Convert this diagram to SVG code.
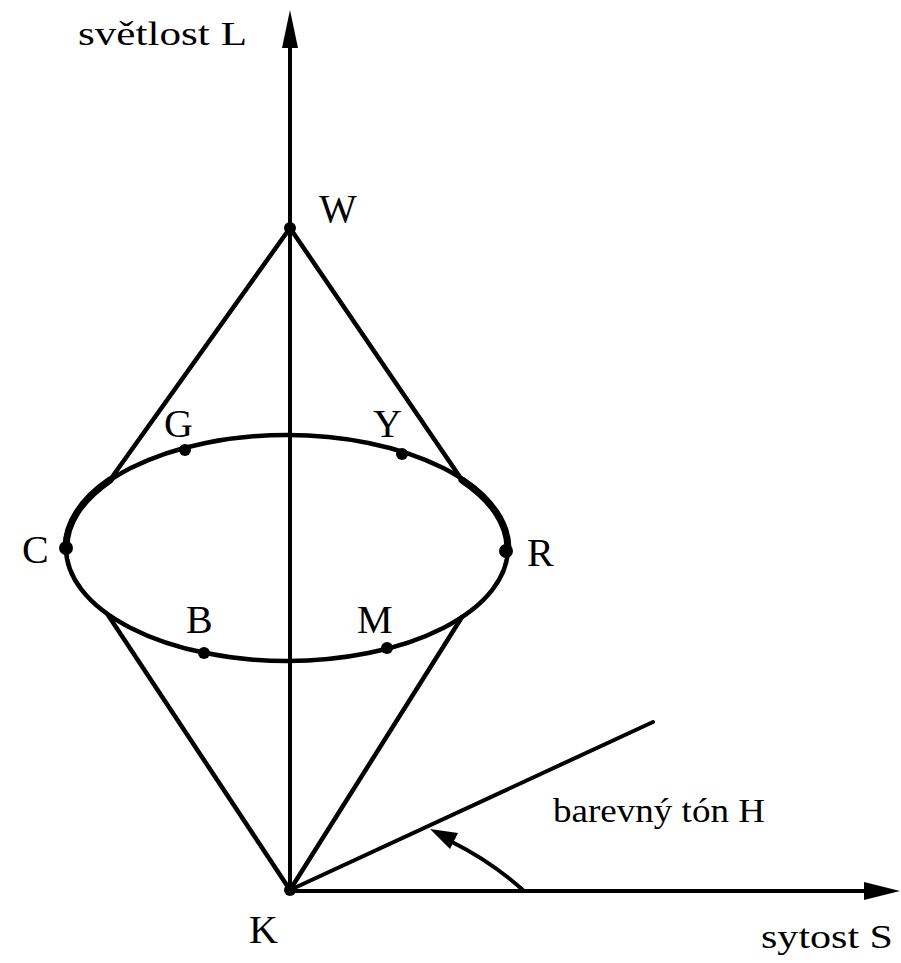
<svg xmlns="http://www.w3.org/2000/svg" width="901" height="963" viewBox="0 0 901 963">
<style>
.ln{stroke:#000;stroke-width:4;fill:none;stroke-linecap:round}
.th{stroke:#000;stroke-width:4.5;fill:none;stroke-linecap:round}
.tk{stroke:#000;stroke-width:7;fill:none;stroke-linecap:round}
.lb{font-family:"Liberation Serif","Times New Roman",serif;font-size:40px;fill:#000}
.tx{font-family:"Liberation Serif","Times New Roman",serif;font-size:34px;fill:#000}
.dot{fill:#000}
</style>
<rect width="901" height="963" fill="#fff"/>
<g id="connectors">
<line class="ln" x1="290" y1="890" x2="290" y2="40"/>
<polygon points="290,10 282,48 298,48" fill="#000"/>
<line class="ln" x1="290" y1="891" x2="870" y2="891"/>
<polygon points="900,891 864,882 864,900" fill="#000"/>
<ellipse class="th" cx="287" cy="548" rx="221" ry="113"/>
<line class="th" x1="290" y1="228" x2="110" y2="480"/>
<path class="tk" d="M110,480 A221,113 0 0,0 66,548"/>
<line class="th" x1="290" y1="228" x2="462" y2="480"/>
<path class="tk" d="M462,480 A221,113 0 0,1 508,548"/>
<line class="th" x1="290" y1="890" x2="108" y2="615"/>
<line class="th" x1="290" y1="890" x2="462" y2="617"/>
<line class="ln" x1="290" y1="890" x2="653" y2="722"/>
<path class="ln" d="M524,891 Q492,862 452,842"/>
<polygon points="430,829 458,833 450,849" fill="#000"/>
</g>
<g id="W"><circle class="dot" cx="290" cy="228" r="6"/><text class="lb" x="319" y="222">W</text></g>
<g id="C"><circle class="dot" cx="66" cy="548" r="7"/><text class="lb" x="22" y="563">C</text></g>
<g id="R"><circle class="dot" cx="506" cy="551" r="7"/><text class="lb" x="527" y="566">R</text></g>
<g id="G"><circle class="dot" cx="185" cy="450" r="6"/><text class="lb" x="164" y="437">G</text></g>
<g id="Y"><circle class="dot" cx="402" cy="454" r="6"/><text class="lb" x="373" y="437">Y</text></g>
<g id="B"><circle class="dot" cx="204" cy="653" r="6"/><text class="lb" x="186" y="633">B</text></g>
<g id="M"><circle class="dot" cx="387" cy="648" r="6"/><text class="lb" x="357" y="633">M</text></g>
<g id="K"><circle class="dot" cx="290" cy="890" r="6"/><text class="lb" x="249" y="943">K</text></g>
<g id="labels">
<text class="tx" x="78" y="45" textLength="169" lengthAdjust="spacingAndGlyphs">světlost L</text>
<text class="tx" x="553" y="822" textLength="212" lengthAdjust="spacingAndGlyphs">barevný tón H</text>
<text class="tx" x="761" y="948" textLength="132" lengthAdjust="spacingAndGlyphs">sytost S</text>
</g>
</svg>
